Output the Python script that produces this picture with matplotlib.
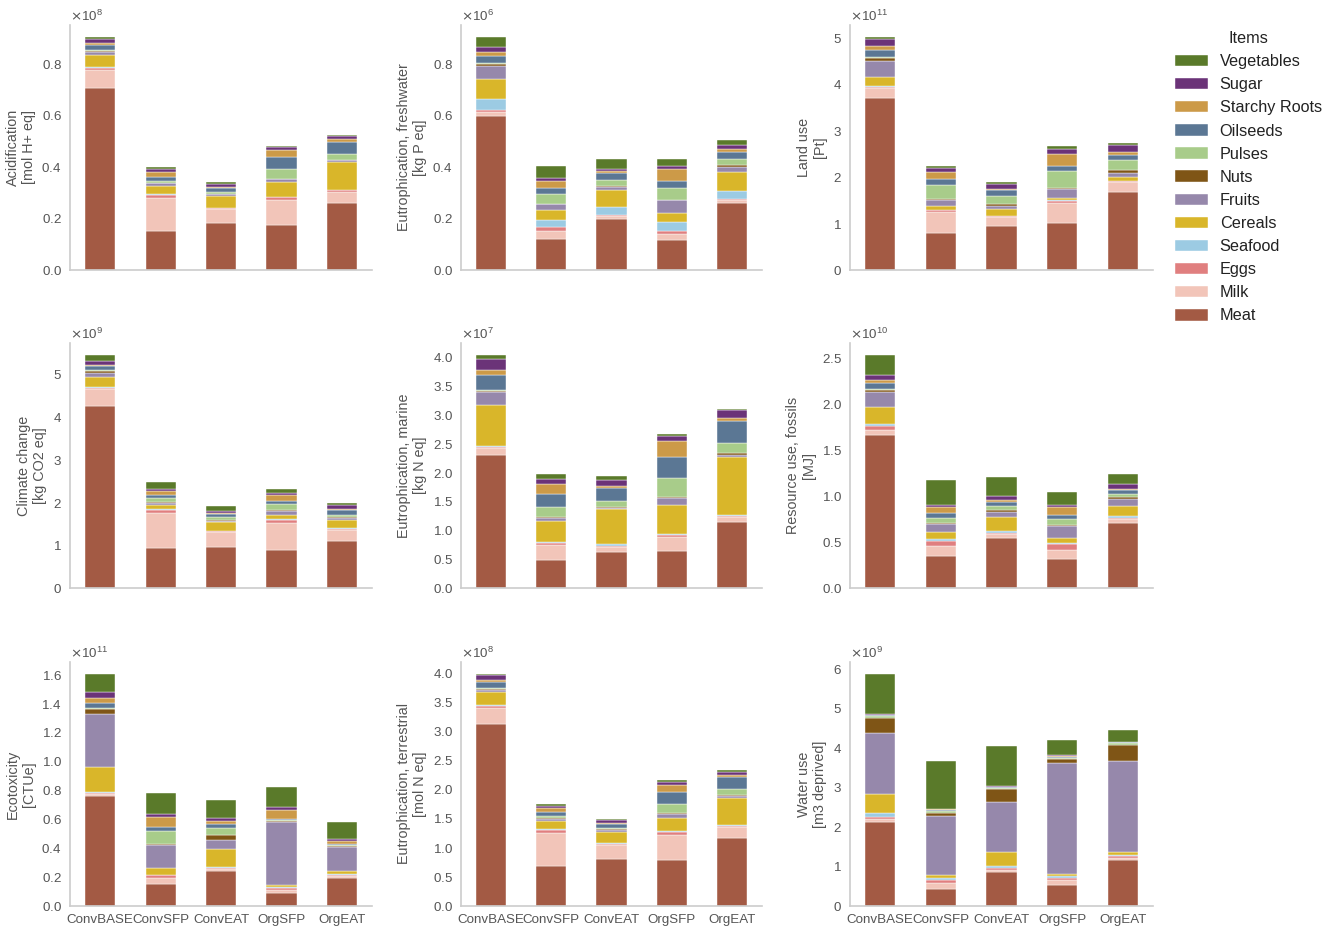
import matplotlib
matplotlib.use("Agg")
import matplotlib.pyplot as plt
import numpy as np

plt.rcParams['font.family'] = ['Liberation Sans', 'DejaVu Sans']

scenarios = ["ConvBASE", "ConvSFP", "ConvEAT", "OrgSFP", "OrgEAT"]
items = ["Meat", "Milk", "Eggs", "Seafood", "Cereals", "Fruits", "Nuts",
         "Pulses", "Oilseeds", "Starchy Roots", "Sugar", "Vegetables"]
colors = ["#a35a44", "#f2c5b9", "#e07f7f", "#9ccbe3", "#d9b62a", "#9688ab",
          "#7f5516", "#a8cc8a", "#5b7794", "#cc9a48", "#6b3378", "#5a7a2a"]

# rows = scenarios, columns = items (bottom to top)
acidification = [
    [0.707, 0.069, 0.010, 0.002, 0.045, 0.014, 0.004, 0.004, 0.018, 0.008, 0.016, 0.009],
    [0.150, 0.131, 0.012, 0.002, 0.033, 0.008, 0.002, 0.008, 0.015, 0.020, 0.011, 0.007],
    [0.182, 0.055, 0.003, 0.002, 0.045, 0.008, 0.002, 0.006, 0.014, 0.007, 0.010, 0.007],
    [0.176, 0.095, 0.012, 0.002, 0.055, 0.013, 0.002, 0.036, 0.047, 0.027, 0.011, 0.007],
    [0.262, 0.042, 0.005, 0.001, 0.108, 0.008, 0.002, 0.023, 0.047, 0.010, 0.011, 0.006],
]
eutro_fresh = [
    [0.595, 0.016, 0.010, 0.040, 0.080, 0.050, 0.006, 0.004, 0.029, 0.016, 0.019, 0.039],
    [0.120, 0.032, 0.013, 0.030, 0.036, 0.023, 0.002, 0.037, 0.026, 0.026, 0.011, 0.048],
    [0.198, 0.013, 0.004, 0.029, 0.067, 0.011, 0.005, 0.021, 0.026, 0.009, 0.009, 0.038],
    [0.116, 0.023, 0.013, 0.033, 0.036, 0.049, 0.002, 0.046, 0.026, 0.048, 0.012, 0.025],
    [0.261, 0.009, 0.005, 0.030, 0.075, 0.020, 0.005, 0.024, 0.028, 0.011, 0.015, 0.021],
]
land_use = [
    [3.694, 0.217, 0.036, 0.010, 0.192, 0.360, 0.058, 0.022, 0.151, 0.080, 0.158, 0.044],
    [0.794, 0.461, 0.036, 0.010, 0.070, 0.144, 0.022, 0.296, 0.115, 0.159, 0.079, 0.043],
    [0.938, 0.202, 0.014, 0.010, 0.156, 0.051, 0.050, 0.181, 0.115, 0.029, 0.108, 0.036],
    [1.010, 0.433, 0.051, 0.010, 0.040, 0.195, 0.021, 0.368, 0.109, 0.252, 0.123, 0.058],
    [1.681, 0.209, 0.022, 0.010, 0.084, 0.086, 0.058, 0.216, 0.109, 0.057, 0.159, 0.051],
]
climate = [
    [4.271, 0.376, 0.032, 0.023, 0.235, 0.102, 0.031, 0.024, 0.094, 0.031, 0.102, 0.141],
    [0.940, 0.823, 0.063, 0.024, 0.086, 0.062, 0.024, 0.078, 0.079, 0.094, 0.039, 0.164],
    [0.956, 0.353, 0.016, 0.015, 0.196, 0.039, 0.016, 0.063, 0.078, 0.031, 0.047, 0.110],
    [0.901, 0.627, 0.063, 0.016, 0.101, 0.095, 0.023, 0.133, 0.086, 0.126, 0.063, 0.078],
    [1.089, 0.267, 0.015, 0.024, 0.196, 0.047, 0.016, 0.062, 0.110, 0.031, 0.087, 0.054],
]
eutro_marine = [
    [2.296, 0.121, 0.024, 0.023, 0.713, 0.226, 0.017, 0.012, 0.255, 0.081, 0.191, 0.082],
    [0.493, 0.249, 0.029, 0.029, 0.354, 0.063, 0.018, 0.174, 0.226, 0.174, 0.081, 0.081],
    [0.620, 0.093, 0.012, 0.029, 0.608, 0.029, 0.012, 0.104, 0.221, 0.046, 0.098, 0.076],
    [0.638, 0.243, 0.029, 0.023, 0.505, 0.116, 0.017, 0.336, 0.354, 0.284, 0.081, 0.041],
    [1.136, 0.099, 0.017, 0.018, 0.991, 0.046, 0.023, 0.180, 0.377, 0.058, 0.133, 0.023],
]
fossils = [
    [1.662, 0.051, 0.047, 0.018, 0.194, 0.160, 0.022, 0.014, 0.059, 0.032, 0.055, 0.222],
    [0.346, 0.110, 0.058, 0.018, 0.073, 0.091, 0.007, 0.055, 0.055, 0.065, 0.026, 0.273],
    [0.539, 0.048, 0.014, 0.019, 0.156, 0.055, 0.018, 0.037, 0.054, 0.018, 0.037, 0.211],
    [0.310, 0.102, 0.062, 0.018, 0.047, 0.135, 0.015, 0.058, 0.047, 0.084, 0.026, 0.135],
    [0.703, 0.048, 0.014, 0.019, 0.102, 0.080, 0.022, 0.036, 0.037, 0.018, 0.047, 0.113],
]
ecotoxicity = [
    [0.758, 0.014, 0.012, 0.004, 0.173, 0.369, 0.035, 0.007, 0.032, 0.035, 0.041, 0.127],
    [0.154, 0.040, 0.018, 0.005, 0.046, 0.161, 0.007, 0.085, 0.030, 0.070, 0.018, 0.150],
    [0.242, 0.014, 0.007, 0.004, 0.130, 0.057, 0.035, 0.050, 0.030, 0.017, 0.025, 0.120],
    [0.090, 0.018, 0.019, 0.007, 0.014, 0.433, 0.007, 0.005, 0.011, 0.062, 0.019, 0.138],
    [0.196, 0.014, 0.004, 0.005, 0.023, 0.166, 0.007, 0.009, 0.007, 0.016, 0.019, 0.115],
]
eutro_terr = [
    [3.126, 0.268, 0.035, 0.017, 0.223, 0.040, 0.011, 0.017, 0.103, 0.034, 0.080, 0.029],
    [0.680, 0.577, 0.052, 0.017, 0.131, 0.034, 0.018, 0.028, 0.069, 0.074, 0.040, 0.034],
    [0.811, 0.240, 0.018, 0.011, 0.189, 0.028, 0.017, 0.023, 0.069, 0.017, 0.046, 0.022],
    [0.794, 0.423, 0.052, 0.017, 0.228, 0.069, 0.011, 0.160, 0.200, 0.126, 0.046, 0.028],
    [1.171, 0.183, 0.017, 0.012, 0.468, 0.035, 0.011, 0.114, 0.200, 0.035, 0.051, 0.029],
]
water_use = [
    [2.127, 0.084, 0.042, 0.085, 0.489, 1.553, 0.379, 0.043, 0.017, 0.010, 0.010, 1.033],
    [0.422, 0.169, 0.059, 0.050, 0.076, 1.494, 0.084, 0.051, 0.017, 0.017, 0.006, 1.226],
    [0.861, 0.059, 0.034, 0.050, 0.363, 1.257, 0.330, 0.033, 0.017, 0.008, 0.008, 1.031],
    [0.540, 0.127, 0.042, 0.050, 0.043, 2.818, 0.085, 0.042, 0.025, 0.025, 0.008, 0.381],
    [1.173, 0.051, 0.033, 0.043, 0.059, 2.312, 0.397, 0.059, 0.008, 0.005, 0.005, 0.302],
]

ylabels = ["Acidification\n[mol H+ eq]", "Eutrophication, freshwater\n[kg P eq]",
           "Land use\n[Pt]", "Climate change\n[kg CO2 eq]",
           "Eutrophication, marine\n[kg N eq]", "Resource use, fossils\n[MJ]",
           "Ecotoxicity\n[CTUe]", "Eutrophication, terrestrial\n[mol N eq]",
           "Water use\n[m3 deprived]"]
exponents = [8, 6, 11, 9, 7, 10, 11, 8, 9]
datasets = [acidification, eutro_fresh, land_use, climate, eutro_marine,
            fossils, ecotoxicity, eutro_terr, water_use]

W, H = 1325, 934
fig = plt.figure(figsize=(W / 100, H / 100), dpi=100)

col_lr = [(70, 372), (461, 762), (850, 1153)]
row_tb = [(25, 270), (343, 588), (662, 906)]

tick_col = "#555555"
handles = []
for k, (data, ylab, ex) in enumerate(zip(datasets, ylabels, exponents)):
    r, c = divmod(k, 3)
    l, rr = col_lr[c]
    t, b = row_tb[r]
    ax = fig.add_axes([l / W, 1 - b / H, (rr - l) / W, (b - t) / H])
    vals = np.array(data) * 10.0 ** ex
    x = np.arange(len(scenarios))
    bottom = np.zeros(len(scenarios))
    hs = []
    for i, item in enumerate(items):
        h = ax.bar(x, vals[:, i], bottom=bottom, width=0.5, color=colors[i],
                   edgecolor="white", linewidth=0.3, label=item)
        hs.append(h)
        bottom += vals[:, i]
    if k == 0:
        handles = hs
    ax.set_xlim(-0.5, 4.5)
    ax.set_xticks(x)
    if r == 2:
        ax.set_xticklabels(scenarios)
    else:
        ax.set_xticklabels([])
    ax.ticklabel_format(axis="y", style="sci", scilimits=(ex, ex), useMathText=True)
    ax.yaxis.get_offset_text().set_fontsize(9.6)
    ax.yaxis.get_offset_text().set_color(tick_col)
    for s in ["top", "right"]:
        ax.spines[s].set_visible(False)
    for s in ["left", "bottom"]:
        ax.spines[s].set_color("#cccccc")
        ax.spines[s].set_linewidth(1.2)
    ax.tick_params(axis="both", length=0, labelsize=9.6, colors=tick_col)
    ax.tick_params(axis="y", pad=6)
    ax.tick_params(axis="x", pad=6)
    ax.set_ylabel(ylab, fontsize=10.4, color=tick_col)
    ax.set_facecolor("white")

leg = fig.legend(handles[::-1], items[::-1], title="Items", loc="upper left",
                 bbox_to_anchor=(1175 / W, 1 - 31 / H), frameon=False,
                 fontsize=11.7, title_fontsize=11.7, borderpad=0,
                 borderaxespad=0, labelspacing=0.5, handletextpad=0.75)
for txt in leg.get_texts():
    txt.set_color("#222222")
leg.get_title().set_color("#222222")

fig.savefig("out.png", dpi=100, facecolor="white")
